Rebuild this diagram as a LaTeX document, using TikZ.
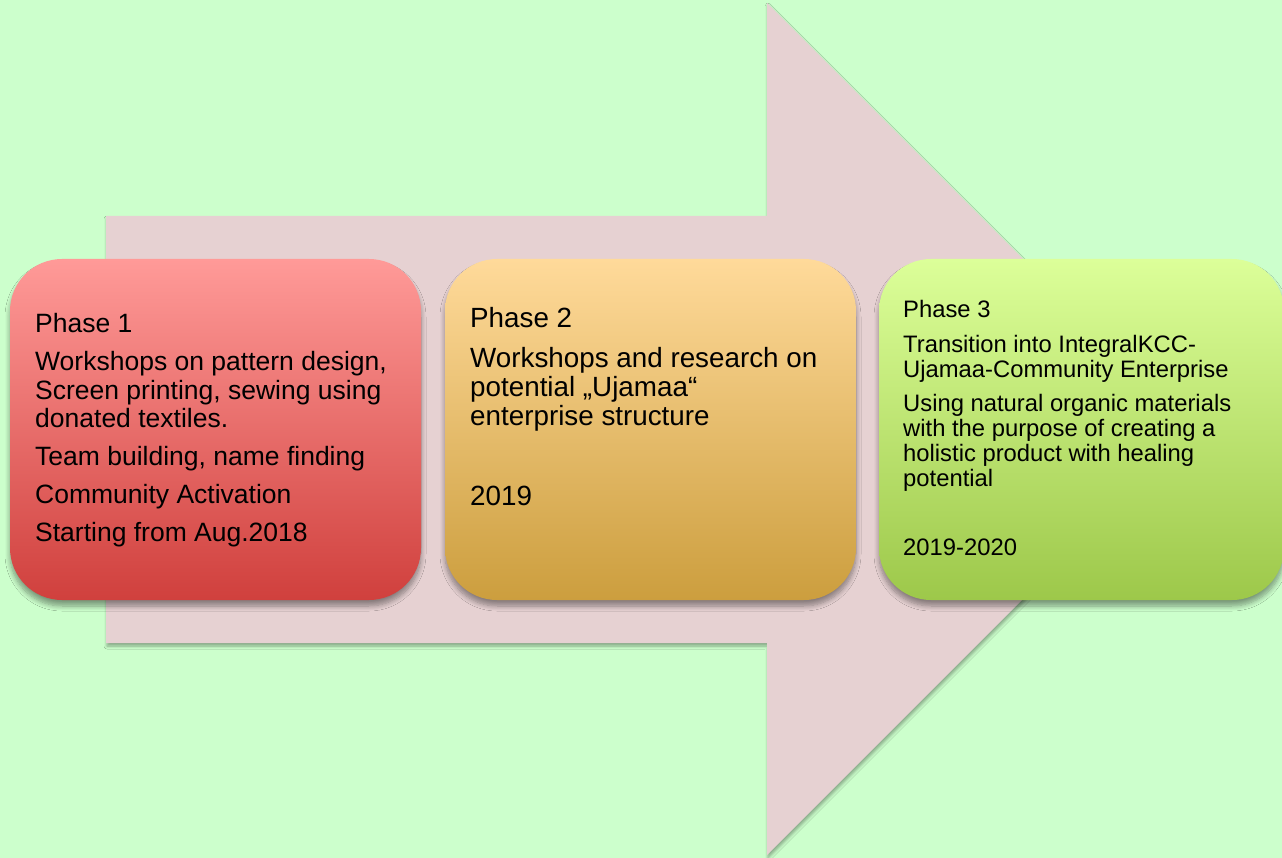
\documentclass[tikz,border=0pt]{standalone}
\usepackage{fontspec}
\setmainfont{Liberation Sans}
\usetikzlibrary{shadows.blur}
\definecolor{bgc}{HTML}{CCFFCC}
\definecolor{arrowc}{HTML}{E6D1D2}
\definecolor{ponetop}{HTML}{FF9A98}
\definecolor{ponebot}{HTML}{D0403D}
\definecolor{ptwotop}{HTML}{FFDA9A}
\definecolor{ptwobot}{HTML}{CC9E3E}
\definecolor{pthrtop}{HTML}{DCFF99}
\definecolor{pthrbot}{HTML}{9DC84A}
\newcommand{\phasetext}[4]{\vtop{\hsize=390pt\parindent=0pt\fontsize{#1}{#2}\selectfont\baselineskip=#2\parskip=#3\relax #4\par}}
\begin{document}
\begin{tikzpicture}[x=1pt,y=-1pt,
  phasebox/.style={rounded corners=52pt, minimum width=411pt, minimum height=341pt, inner sep=0pt,
    blur shadow={shadow xshift=0pt, shadow yshift=-6pt, shadow blur radius=5pt, shadow blur steps=8, shadow opacity=40}},
  phasetxt/.style={anchor=base west, inner sep=0pt, text=black},
  arrowshape/.style={fill=arrowc,
    blur shadow={shadow xshift=1pt, shadow yshift=-3pt, shadow blur radius=3pt, shadow blur steps=6, shadow opacity=35}}
]
\path[fill=bgc] (0,0) rectangle (1282,858);
\useasboundingbox (0,0) rectangle (1282,858);
% big arrow
\path[arrowshape] (106,216) -- (767,216) -- (767,3) -- (1193,429) -- (767,855) -- (767,643) -- (106,643) -- cycle;
% phase boxes
\node[phasebox, top color=ponetop, bottom color=ponebot] (p1) at (215.5,429.5) {};
\node[phasebox, top color=ptwotop, bottom color=ptwobot] (p2) at (650.5,429.5) {};
\node[phasebox, top color=pthrtop, bottom color=pthrbot, minimum width=405pt] (p3) at (1081.5,429.5) {};
% texts
\node[phasetxt] (t1) at (35,333) {\phasetext{26.5pt}{28.5pt}{9.5pt}{Phase 1\par
Workshops on pattern design,\newline Screen printing, sewing using\newline donated textiles.\par
Team building, name finding\par
Community Activation\par
Starting from Aug.2018}};
\node[phasetxt] (t2) at (470,328) {\phasetext{27.8pt}{28.7pt}{11.3pt}{Phase 2\par
Workshops and research on\newline potential „Ujamaa“\newline enterprise structure\par
\mbox{}\par
2019}};
\node[phasetxt] (t3) at (903,318) {\phasetext{23.8pt}{25pt}{9.5pt}{Phase 3\par
Transition into IntegralKCC-\newline Ujamaa-Community Enterprise\par
Using natural organic materials\newline with the purpose of creating a\newline holistic product with healing\newline potential\par
\mbox{}\par
2019-2020}};
\end{tikzpicture}
\end{document}
